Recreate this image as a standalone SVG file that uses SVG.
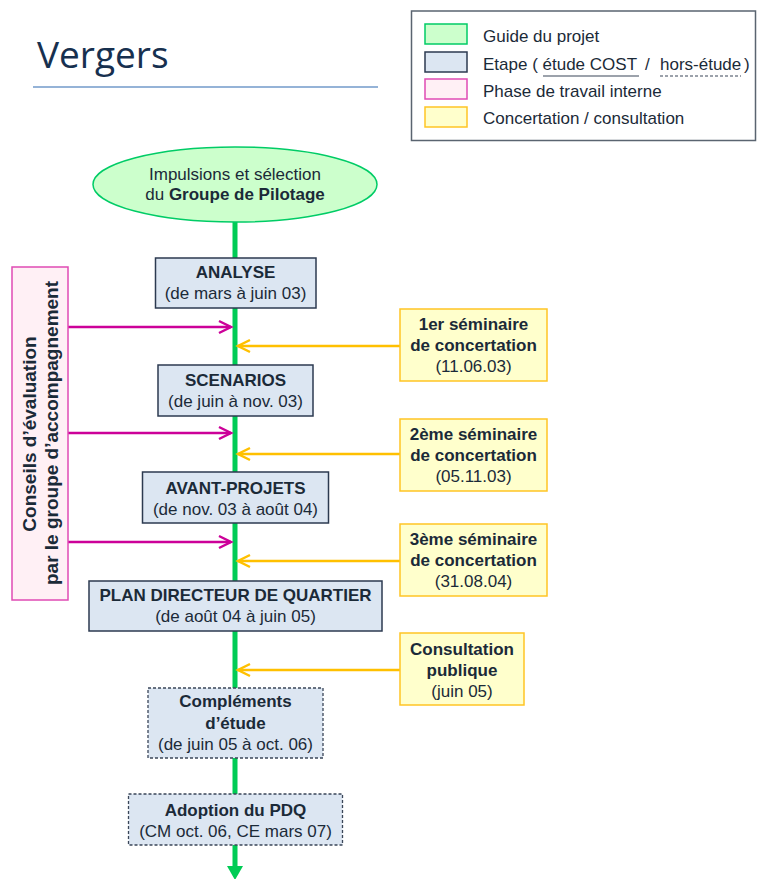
<svg xmlns="http://www.w3.org/2000/svg" width="757" height="879" viewBox="0 0 757 879">
  <style>
    text { font-family: "Liberation Sans", Arial, sans-serif; font-size: 17px; fill: #1b2a38; }
    .b { font-weight: bold; }
    .mid { text-anchor: middle; }
    .title { font-family: "Open Sans", "Noto Sans", sans-serif; font-size: 37px; fill: #17304f; }
    .step { fill: #dce6f2; stroke: #2c3a50; stroke-width: 1.5; }
    .extra { fill: #dce6f2; stroke: #3a4658; stroke-width: 1.3; stroke-dasharray: 3 2; }
    .conc { fill: #ffffcc; stroke: #ffc525; stroke-width: 1.5; }
    .guide { fill: #ccffcc; stroke: #00cc66; stroke-width: 1.5; }
    .intern { fill: #fff0f5; stroke: #e04bb4; stroke-width: 1.5; }
    .spine { stroke: #00cc55; stroke-width: 5; fill: none; }
    .pk { stroke: #cc0099; stroke-width: 2.5; fill: none; marker-end: url(#headPink); }
    .yl { stroke: #ffc000; stroke-width: 2.5; fill: none; marker-end: url(#headYellow); }
  </style>
  <defs>
    <marker id="headPink" markerUnits="userSpaceOnUse" markerWidth="16" markerHeight="16" refX="13" refY="7" orient="auto" overflow="visible">
      <path d="M1,1 L13,7 L1,13" fill="none" stroke="#cc0099" stroke-width="2.5" stroke-linejoin="miter"/>
    </marker>
    <marker id="headYellow" markerUnits="userSpaceOnUse" markerWidth="16" markerHeight="16" refX="13" refY="7" orient="auto" overflow="visible">
      <path d="M1,1 L13,7 L1,13" fill="none" stroke="#ffc000" stroke-width="2.5" stroke-linejoin="miter"/>
    </marker>
  </defs>

  <!-- heading -->
  <g id="heading">
    <text class="title" x="37" y="68">Vergers</text>
    <line x1="33" y1="87" x2="378" y2="87" stroke="#95b3d7" stroke-width="2"/>
  </g>

  <!-- legend -->
  <g id="legend">
    <rect x="411.5" y="11" width="344" height="129.5" fill="#ffffff" stroke="#5a6470" stroke-width="1.5"/>
    <rect class="guide" x="425" y="24" width="42" height="20"/>
    <rect class="step" x="425" y="52" width="42" height="20"/>
    <rect class="intern" x="425" y="79" width="42" height="20"/>
    <rect class="conc" x="425" y="107" width="42" height="20"/>
    <text x="483" y="42">Guide du projet</text>
    <text x="483" y="70">Etape ( étude COST</text>
    <text x="645" y="70">/</text>
    <text x="660" y="70">hors-étude</text>
    <text x="744" y="70">)</text>
    <line x1="543" y1="76" x2="639" y2="76" stroke="#3a4658" stroke-width="1.2"/>
    <line x1="660" y1="76" x2="741" y2="76" stroke="#3a4658" stroke-width="1.2" stroke-dasharray="3 2"/>
    <text x="483" y="97">Phase de travail interne</text>
    <text x="483" y="124">Concertation / consultation</text>
  </g>

  <!-- connectors -->
  <g id="connectors">
    <line class="spine" x1="235" y1="222" x2="235" y2="868"/>
    <polygon points="227,866 243,866 235,880" fill="#00cc55"/>
    <line class="pk" x1="68" y1="327" x2="231" y2="327"/>
    <line class="pk" x1="68" y1="433" x2="231" y2="433"/>
    <line class="pk" x1="68" y1="542" x2="231" y2="542"/>
    <line class="yl" x1="400" y1="346" x2="238" y2="346"/>
    <line class="yl" x1="400" y1="454" x2="238" y2="454"/>
    <line class="yl" x1="400" y1="561" x2="238" y2="561"/>
    <line class="yl" x1="400" y1="670" x2="238" y2="670"/>
  </g>

  <!-- guide -->
  <g id="impulsions">
    <ellipse class="guide" cx="235" cy="184.5" rx="142" ry="37.5"/>
    <text class="mid" x="235" y="180">Impulsions et sélection</text>
    <text class="mid" x="235" y="200">du <tspan class="b">Groupe de Pilotage</tspan></text>
  </g>

  <!-- internal work phase -->
  <g id="conseils">
    <rect class="intern" x="12" y="267" width="56" height="333"/>
    <text class="b mid" transform="translate(36,434) rotate(-90)" style="font-size:19px">Conseils d’évaluation</text>
    <text class="b mid" transform="translate(58,433) rotate(-90)" style="font-size:19px">par le groupe d’accompagnement</text>
  </g>

  <!-- steps -->
  <g id="analyse">
    <rect class="step" x="155.5" y="258" width="160.5" height="50"/>
    <text class="b mid" x="235.5" y="278">ANALYSE</text>
    <text class="mid" x="235.5" y="299">(de mars à juin 03)</text>
  </g>
  <g id="scenarios">
    <rect class="step" x="158" y="365" width="155" height="51"/>
    <text class="b mid" x="235.5" y="386">SCENARIOS</text>
    <text class="mid" x="235.5" y="407">(de juin à nov. 03)</text>
  </g>
  <g id="avant-projets">
    <rect class="step" x="142.5" y="472" width="186" height="51"/>
    <text class="b mid" x="235.5" y="494">AVANT-PROJETS</text>
    <text class="mid" x="235.5" y="515">(de nov. 03 à août 04)</text>
  </g>
  <g id="pdq">
    <rect class="step" x="89" y="581" width="293" height="50"/>
    <text class="b mid" x="235.5" y="601">PLAN DIRECTEUR DE QUARTIER</text>
    <text class="mid" x="235.5" y="622">(de août 04 à juin 05)</text>
  </g>
  <g id="complements">
    <rect class="extra" x="148" y="688" width="175" height="70"/>
    <text class="b mid" x="235.5" y="707">Compléments</text>
    <text class="b mid" x="235.5" y="729">d’étude</text>
    <text class="mid" x="235.5" y="750">(de juin 05 à oct. 06)</text>
  </g>
  <g id="adoption">
    <rect class="extra" x="128.5" y="794" width="214" height="51"/>
    <text class="b mid" x="235.5" y="816">Adoption du PDQ</text>
    <text class="mid" x="235.5" y="837">(CM oct. 06, CE mars 07)</text>
  </g>

  <!-- concertation -->
  <g id="seminaire1">
    <rect class="conc" x="400" y="309" width="147" height="72"/>
    <text class="b mid" x="473.5" y="330">1er séminaire</text>
    <text class="b mid" x="473.5" y="351">de concertation</text>
    <text class="mid" x="473.5" y="372">(11.06.03)</text>
  </g>
  <g id="seminaire2">
    <rect class="conc" x="400" y="419" width="147" height="72"/>
    <text class="b mid" x="473.5" y="440">2ème séminaire</text>
    <text class="b mid" x="473.5" y="461">de concertation</text>
    <text class="mid" x="473.5" y="482">(05.11.03)</text>
  </g>
  <g id="seminaire3">
    <rect class="conc" x="400" y="524" width="147" height="72"/>
    <text class="b mid" x="473.5" y="545">3ème séminaire</text>
    <text class="b mid" x="473.5" y="566">de concertation</text>
    <text class="mid" x="473.5" y="587">(31.08.04)</text>
  </g>
  <g id="consultation">
    <rect class="conc" x="400" y="633" width="124" height="72"/>
    <text class="b mid" x="462" y="655">Consultation</text>
    <text class="b mid" x="462" y="676">publique</text>
    <text class="mid" x="462" y="697">(juin 05)</text>
  </g>
</svg>
